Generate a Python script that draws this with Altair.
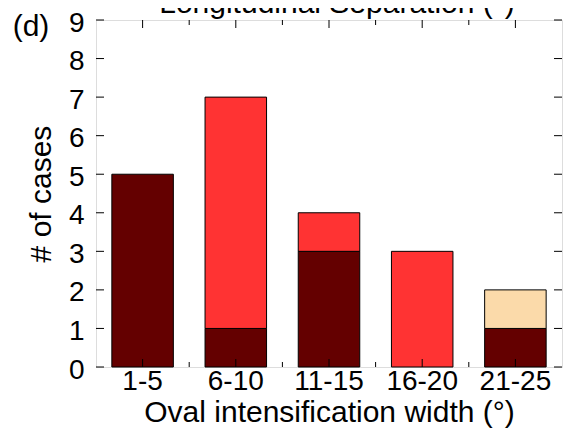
import altair as alt
import pandas as pd

categories = ["1-5", "6-10", "11-15", "16-20", "21-25"]
dark_counts = [5, 1, 3, 0, 1]
red_counts = [0, 6, 1, 3, 0]
peach_counts = [0, 0, 0, 0, 1]
series_names = ["dark", "red", "peach"]
series_colors = ["#640000", "#FF3333", "#FBDAAA"]
y_tick_values = [0, 1, 2, 3, 4, 5, 6, 7, 8, 9]
x_major_ticks = [0.5, 1.5, 2.5, 3.5, 4.5]
x_minor_ticks = [1, 2, 3, 4]
panel_label = ["(d)"]
top_title = ["Longitudinal Separation (°)"]

rows = []
for i, c in enumerate(categories):
    for k, vals in enumerate([dark_counts, red_counts, peach_counts]):
        if vals[i] > 0:
            rows.append({"cat": c, "series": series_names[k], "count": vals[i], "ord": k})
df = pd.DataFrame(rows)

W, H = 466, 347
FONT = "Liberation Sans"

y_axis = alt.Axis(values=y_tick_values, ticks=False, domain=False, grid=False,
                  labelPadding=12, labelOffset=3, title="# of cases", labelFontSize=28,
                  titleFontSize=30, titleFontWeight="normal", titlePadding=12,
                  labelColor="black", titleColor="black",
                  labelFont=FONT, titleFont=FONT)
y_scale = alt.Scale(domain=[0, 9], nice=False, zero=True)

bars = alt.Chart(df).mark_bar(stroke="black", strokeWidth=1).encode(
    x=alt.X("cat:N", sort=categories,
            scale=alt.Scale(paddingInner=0.34, paddingOuter=0.17),
            axis=alt.Axis(title="Oval intensification width (°)", labelAngle=0,
                          ticks=False, domain=False, labelFontSize=28,
                          titleFontSize=30, titleFontWeight="normal",
                          labelPadding=0, titlePadding=2, labelColor="black",
                          titleColor="black", labelFont=FONT, titleFont=FONT)),
    y=alt.Y("count:Q", stack="zero", scale=y_scale, axis=y_axis),
    color=alt.Color("series:N", scale=alt.Scale(domain=series_names, range=series_colors),
                    legend=None),
    order=alt.Order("ord:Q"),
)

ydf = pd.DataFrame({"count": y_tick_values})
left_ticks = alt.Chart(ydf).mark_rule(color="black", strokeWidth=1).encode(
    y=alt.Y("count:Q", scale=y_scale, axis=y_axis), x=alt.value(0), x2=alt.value(8))
right_ticks = alt.Chart(ydf).mark_rule(color="black", strokeWidth=1).encode(
    y=alt.Y("count:Q", scale=y_scale, axis=y_axis), x=alt.value(W - 8), x2=alt.value(W))

xs = alt.Scale(domain=[0, 5], nice=False, zero=False)
majdf = pd.DataFrame({"p": x_major_ticks})
mindf = pd.DataFrame({"p": x_minor_ticks})
bot_major = alt.Chart(majdf).mark_rule(color="black", strokeWidth=1).encode(
    x=alt.X("p:Q", scale=xs, axis=None), y=alt.value(H - 8), y2=alt.value(H))
top_major = alt.Chart(majdf).mark_rule(color="black", strokeWidth=1).encode(
    x=alt.X("p:Q", scale=xs, axis=None), y=alt.value(0), y2=alt.value(8))
bot_minor = alt.Chart(mindf).mark_rule(color="black", strokeWidth=1).encode(
    x=alt.X("p:Q", scale=xs, axis=None), y=alt.value(H - 5), y2=alt.value(H))
top_minor = alt.Chart(mindf).mark_rule(color="black", strokeWidth=1).encode(
    x=alt.X("p:Q", scale=xs, axis=None), y=alt.value(0), y2=alt.value(5))

label_d = alt.Chart(pd.DataFrame({"t": panel_label})).mark_text(
    font=FONT, fontSize=30, align="center", baseline="middle", color="black"
).encode(text="t:N", x=alt.value(-65), y=alt.value(7))

title_t = alt.Chart(pd.DataFrame({"t": top_title})).mark_text(
    font=FONT, fontSize=30, align="center", baseline="alphabetic", color="black"
).encode(text="t:N", x=alt.value(W / 2 + 8), y=alt.value(-7))

chart = alt.layer(
    bars, left_ticks, right_ticks, bot_major, top_major, bot_minor, top_minor,
    label_d, title_t
).resolve_scale(x="independent").properties(
    width=W, height=H,
    autosize=alt.AutoSizeParams(type="none"),
    padding={"left": 88, "top": 12, "right": 1, "bottom": 61},
).configure_view(stroke="black", strokeWidth=1).configure(background="white")

chart.save("out.html", embed_options={"renderer": "svg", "actions": False})
